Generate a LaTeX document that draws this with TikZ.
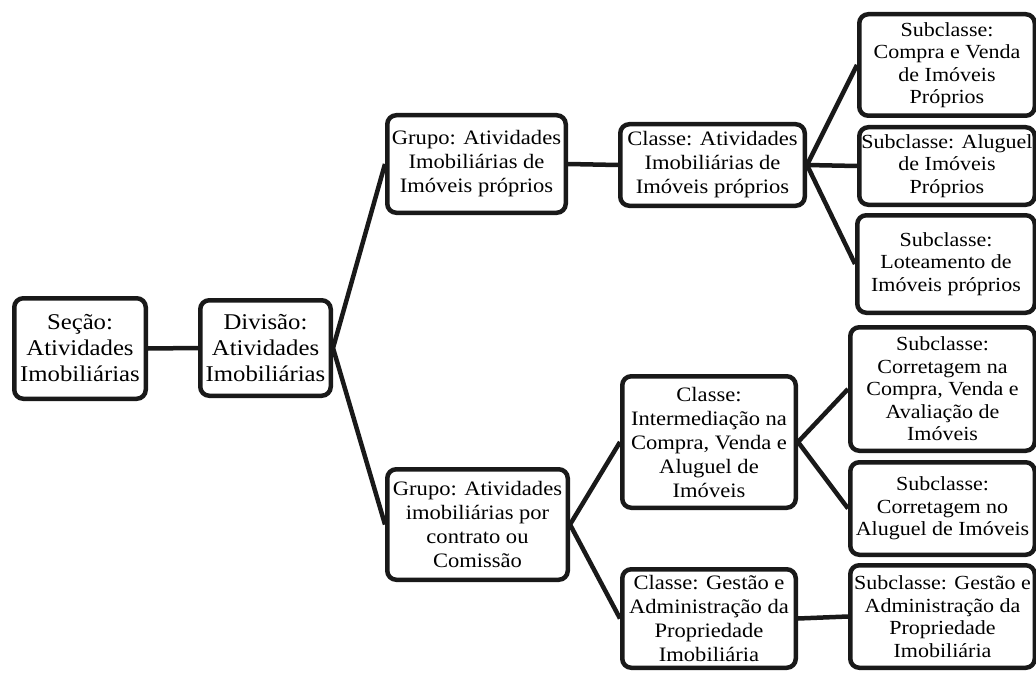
\documentclass[tikz,border=0pt]{standalone}
\usepackage{fontspec}
\setmainfont[FakeStretch=1.1]{Liberation Serif}
\begin{document}
\begin{tikzpicture}[x=1pt,y=-1pt,
  box/.style={draw=black!90, line width=4.5pt, rounded corners=9pt, align=center,
    inner sep=0pt, fill=white, font=\fontsize{20.5}{24}\selectfont},
  big/.style={font=\fontsize{22.5}{26}\selectfont},
  sub/.style={font=\fontsize{20}{22.5}\selectfont},
  sz/.style 2 args={minimum width=#1pt, minimum height=#2pt},
  link/.style={draw=black!90, line width=4.5pt}]
\useasboundingbox (0,0) rectangle (1036,674);
% nodes
\node[box, big, sz={131.5}{100.5}] (sec) at (80,348.5) {Seção:\\Atividades\\Imobiliárias};
\node[box, big, sz={130.5}{95.5}] (div) at (265.5,348) {Divisão:\\Atividades\\Imobiliárias};
\node[box, sz={178.5}{97.5}] (g1) at (476.5,164) {Grupo: Atividades\\Imobiliárias de\\Imóveis próprios};
\node[box, sz={184.5}{81.5}] (c1) at (712.5,165) {Classe: Atividades\\Imobiliárias de\\Imóveis próprios};
\node[box, sz={180.5}{110.5}] (g2) at (477.5,524.5) {Grupo: Atividades\\imobiliárias por\\contrato ou\\Comissão};
\node[box, sz={173.5}{131.5}] (c2) at (709,442) {Classe:\\Intermediação na\\Compra, Venda e\\Aluguel de\\Imóveis};
\node[box, sz={173.5}{98.5}] (c3) at (709,618.5) {Classe: Gestão e\\Administração da\\Propriedade\\Imobiliária};
\node[box, sub, sz={175.5}{101.5}] (s1) at (947,65) {Subclasse:\\Compra e Venda\\de Imóveis\\Próprios};
\node[box, sub, sz={175.5}{77.5}] (s2) at (947,166) {Subclasse: Aluguel\\de Imóveis\\Próprios};
\node[box, sub, sz={177.5}{97.5}] (s3) at (946,264) {Subclasse:\\Loteamento de\\Imóveis próprios};
\node[box, sub, sz={184.5}{123.5}] (s4) at (942.5,389) {Subclasse:\\Corretagem na\\Compra, Venda e\\Avaliação de\\Imóveis};
\node[box, sub, sz={184.5}{92.5}] (s5) at (942.5,508.5) {Subclasse:\\Corretagem no\\Aluguel de Imóveis};
\node[box, sub, sz={184.5}{102.5}] (s6) at (942.5,616.5) {Subclasse: Gestão e\\Administração da\\Propriedade\\Imobiliária};
% connectors
\draw[link] (sec.east) -- (div.west);
\draw[link] (div.east) -- (g1.west);
\draw[link] (div.east) -- (g2.west);
\draw[link] (g1.east) -- (c1.west);
\draw[link] (c1.east) -- (s1.west);
\draw[link] (c1.east) -- (s2.west);
\draw[link] (c1.east) -- (s3.west);
\draw[link] (g2.east) -- (c2.west);
\draw[link] (g2.east) -- (c3.west);
\draw[link] (c2.east) -- (s4.west);
\draw[link] (c2.east) -- (s5.west);
\draw[link] (c3.east) -- (s6.west);
\end{tikzpicture}
\end{document}
